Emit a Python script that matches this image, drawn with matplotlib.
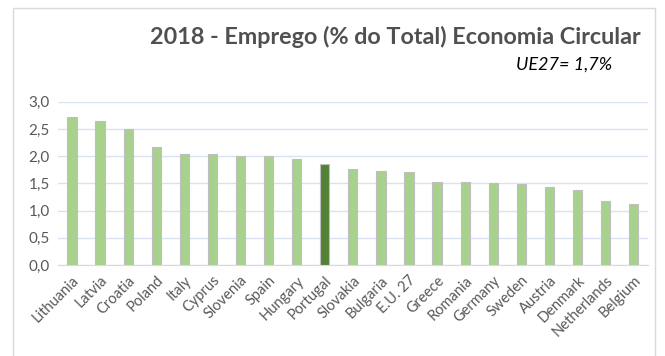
import matplotlib.pyplot as plt
from matplotlib.patches import Rectangle

countries = ['Lithuania', 'Latvia', 'Croatia', 'Poland', 'Italy', 'Cyprus', 'Slovenia',
             'Spain', 'Hungary', 'Portugal', 'Slovakia', 'Bulgaria', 'E.U. 27', 'Greece',
             'Romania', 'Germany', 'Sweden', 'Austria', 'Denmark', 'Netherlands', 'Belgium']
emprego = [2.71, 2.65, 2.49, 2.17, 2.04, 2.04, 2.01, 2.00, 1.95, 1.85, 1.76, 1.72, 1.70,
           1.52, 1.52, 1.51, 1.48, 1.43, 1.38, 1.17, 1.12]
destaque = 'Portugal'
yticks = [0.0, 0.5, 1.0, 1.5, 2.0, 2.5, 3.0]

plt.rcParams['font.family'] = ['Lato', 'DejaVu Sans']

fig = plt.figure(figsize=(6.65, 3.56), dpi=100)
ax = fig.add_axes([0.0872, 0.2556, 0.8868, 0.4588])

cores = ['#548235' if c == destaque else '#a9d18e' for c in countries]
x = range(len(countries))
ax.bar(x, emprego, width=0.33, color=cores, edgecolor='#bfbfbf', linewidth=0.8, zorder=3)

ax.set_xlim(-0.5, len(countries) - 0.5)
ax.set_ylim(0, 3.0)
ax.set_yticks(yticks)
ax.set_yticklabels([f'{v:.1f}'.replace('.', ',') for v in yticks], color='#595959', fontsize=11)
ax.set_xticks(list(x))
ax.set_xticklabels(countries, rotation=45, ha='right', rotation_mode='anchor',
                   color='#595959', fontsize=10.5)
ax.tick_params(length=0, pad=6)
ax.grid(axis='y', color='#d9e2f3', linewidth=1, zorder=0)
for s in ['top', 'right', 'left']:
    ax.spines[s].set_visible(False)
ax.spines['bottom'].set_color('#d9d9d9')

fig.text(0.963, 0.895, '2018 - Emprego (% do Total) Economia Circular', ha='right', va='center',
         fontsize=16.8, fontweight='bold', color='#505050')
fig.text(0.92, 0.818, 'UE27= 1,7%', ha='right', va='center', fontsize=13,
         style='italic', color='black')

fig.patches.append(Rectangle((0.0195, -0.1), 0.966, 1.077, transform=fig.transFigure,
                             fill=False, edgecolor='#d9d9d9', linewidth=1))

fig.savefig('out.png', dpi=100, facecolor='white')
